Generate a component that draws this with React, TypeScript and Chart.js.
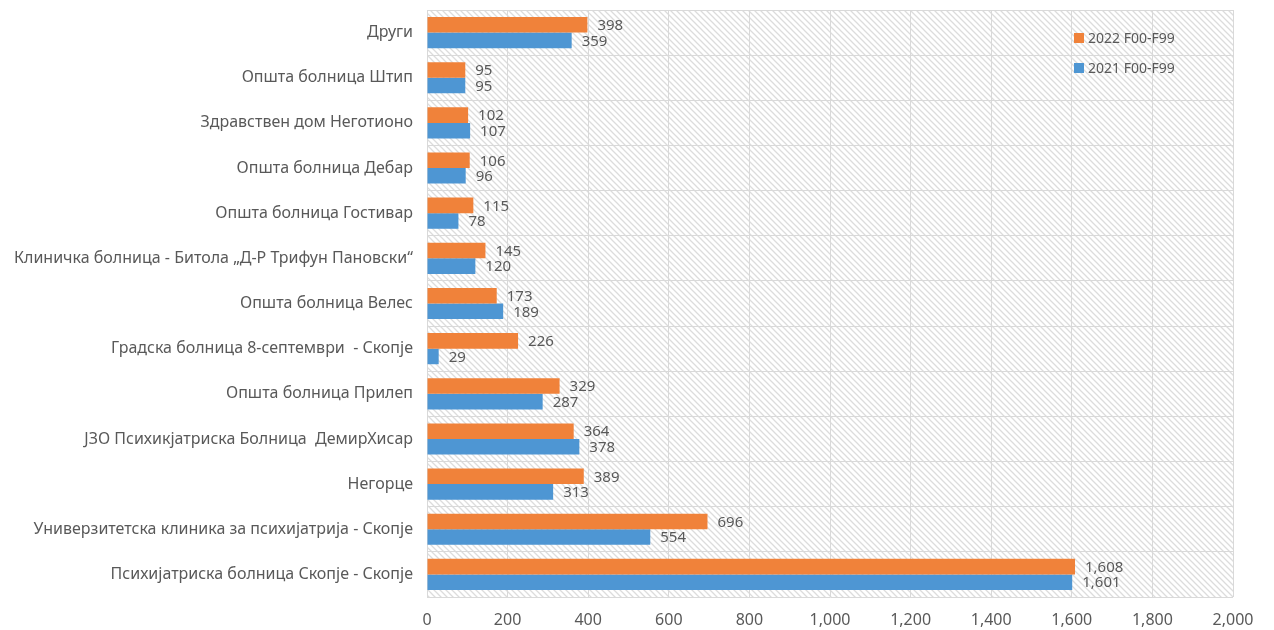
import React, { useEffect, useRef } from "react";
import { Chart, registerables } from "chart.js";

Chart.register(...registerables);

const categories = [
  "Други",
  "Општа болница Штип",
  "Здравствен дом Неготионо",
  "Општа болница Дебар",
  "Општа болница Гостивар",
  "Клиничка болница - Битола „Д-Р Трифун Пановски“",
  "Општа болница Велес",
  "Градска болница 8-септември  - Скопје",
  "Општа болница Прилеп",
  "ЈЗО Психикјатриска Болница  ДемирХисар",
  "Негорце",
  "Универзитетска клиника за психијатрија - Скопје",
  "Психијатриска болница Скопје - Скопје",
];

const values2022 = [398, 95, 102, 106, 115, 145, 173, 226, 329, 364, 389, 696, 1608];
const values2021 = [359, 95, 107, 96, 78, 120, 189, 29, 287, 378, 313, 554, 1601];

const seriesNames = ["2022 F00-F99", "2021 F00-F99"];
const seriesColors = ["#F0823A", "#4E96D3"];

const FONT = "'Noto Sans', sans-serif";
const TEXT = "#595959";

export default function App() {
  const ref = useRef<HTMLCanvasElement | null>(null);

  useEffect(() => {
    if (!ref.current) return;
    const pc = document.createElement("canvas");
    pc.width = 6;
    pc.height = 6;
    const pctx = pc.getContext("2d")!;
    pctx.strokeStyle = "#DCDCDC";
    pctx.lineWidth = 1.3;
    pctx.beginPath();
    pctx.moveTo(-1, -1);
    pctx.lineTo(7, 7);
    pctx.moveTo(-1, 5);
    pctx.lineTo(1, 7);
    pctx.moveTo(5, -1);
    pctx.lineTo(7, 1);
    pctx.stroke();

    const hatch = {
      id: "hatch",
      beforeDraw(chart: any) {
        const { ctx, chartArea } = chart;
        const pat = ctx.createPattern(pc, "repeat");
        ctx.save();
        ctx.fillStyle = pat;
        ctx.fillRect(chartArea.left, chartArea.top, chartArea.right - chartArea.left, chartArea.bottom - chartArea.top);
        ctx.restore();
      },
    };

    const labelsPlugin = {
      id: "valueLabels",
      afterDatasetsDraw(chart: any) {
        const { ctx } = chart;
        ctx.save();
        ctx.font = `15px ${FONT}`;
        ctx.fillStyle = TEXT;
        ctx.textBaseline = "middle";
        ctx.textAlign = "left";
        chart.data.datasets.forEach((ds: any, di: number) => {
          const meta = chart.getDatasetMeta(di);
          meta.data.forEach((bar: any, i: number) => {
            const v = ds.data[i];
            ctx.fillText(v.toLocaleString("en-US"), bar.x + 10, bar.y + 1);
          });
        });
        ctx.restore();
      },
    };

    const legendPlugin = {
      id: "innerLegend",
      afterDraw(chart: any) {
        const { ctx } = chart;
        ctx.save();
        ctx.font = `14px ${FONT}`;
        ctx.textBaseline = "middle";
        ctx.textAlign = "left";
        [0, 1].forEach((k, idx) => {
          const y = 38 + idx * 30;
          ctx.fillStyle = seriesColors[k];
          ctx.fillRect(1074, y - 5, 10, 10);
          ctx.fillStyle = TEXT;
          ctx.fillText(seriesNames[k], 1088, y + 1);
        });
        ctx.restore();
      },
    };

    const chart = new Chart(ref.current, {
      type: "bar",
      data: {
        labels: categories,
        datasets: [
          {
            label: seriesNames[0],
            data: values2022,
            backgroundColor: seriesColors[0],
            categoryPercentage: 0.69,
            barPercentage: 1,
          },
          {
            label: seriesNames[1],
            data: values2021,
            backgroundColor: seriesColors[1],
            categoryPercentage: 0.69,
            barPercentage: 1,
          },
        ],
      },
      options: {
        indexAxis: "y",
        animation: false,
        responsive: true,
        maintainAspectRatio: false,
        layout: { padding: { left: 0, right: 41, top: 10, bottom: 0 } },
        plugins: {
          legend: { display: false },
          tooltip: { enabled: false },
        },
        scales: {
          x: {
            min: 0,
            max: 2000,
            ticks: {
              stepSize: 200,
              color: TEXT,
              font: { family: FONT, size: 16 },
              padding: 14,
              callback: (v: any) => Number(v).toLocaleString("en-US"),
            },
            grid: { color: "#D9D9D9", drawTicks: false },
            border: { display: false },
            afterFit: (s: any) => {
              s.height = 33;
            },
          },
          y: {
            ticks: {
              color: TEXT,
              font: { family: FONT, size: 16 },
              padding: 14,
            },
            grid: { color: "#D9D9D9", drawTicks: false, offset: true },
            border: { color: "#D9D9D9" },
            afterFit: (s: any) => {
              s.width = 427;
              s.paddingTop = 0;
              s.paddingBottom = 0;
            },
          },
        },
      },
      plugins: [hatch, labelsPlugin, legendPlugin],
    } as any);
    return () => chart.destroy();
  }, []);

  return (
    <div style={{ position: "fixed", left: 0, top: 0, width: 1274, height: 630, background: "#fff" }}>
      <canvas ref={ref} />
    </div>
  );
}
